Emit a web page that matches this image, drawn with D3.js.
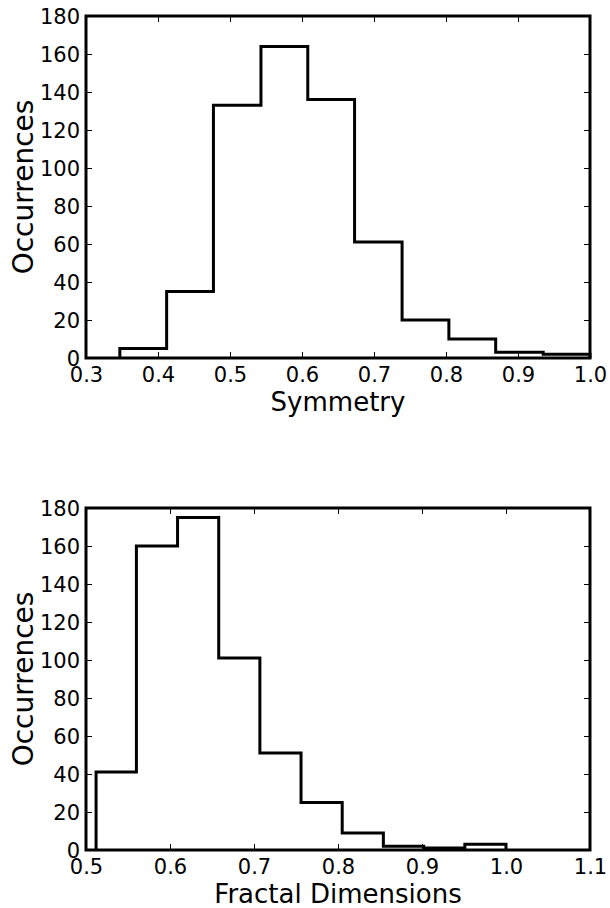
<!DOCTYPE html>
<html>
<head>
<meta charset="utf-8">
<script src="https://d3js.org/d3.v7.min.js"></script>
<style>
  body { margin: 0; background: #fff; }
  text { font-family: "DejaVu Sans", sans-serif; fill: #000; }
</style>
</head>
<body>
<div class="chart"></div>
<script>
// histogram data
var symmetryEdges = [0.347, 0.412, 0.477, 0.543, 0.608, 0.673, 0.739, 0.804, 0.869, 0.935, 1.0];
var symmetryCounts = [5, 35, 133, 164, 136, 61, 20, 10, 3, 2];
var symmetryTicks = [0.3, 0.4, 0.5, 0.6, 0.7, 0.8, 0.9, 1.0];

var fractalEdges = [0.512, 0.560, 0.609, 0.658, 0.707, 0.756, 0.805, 0.854, 0.902, 0.951, 1.0];
var fractalCounts = [41, 160, 175, 101, 51, 25, 9, 2, 1, 3];
var fractalTicks = [0.5, 0.6, 0.7, 0.8, 0.9, 1.0, 1.1];

var yTicks = [0, 20, 40, 60, 80, 100, 120, 140, 160, 180];

var svgWidth = 610;
var svgHeight = 908;

var svg = d3.select(".chart")
  .append("svg")
  .attr("width", svgWidth)
  .attr("height", svgHeight);

// one panel = one step histogram with a boxed frame
function drawHist(edges, counts, xTicks, label, top) {
  var margin = { left: 86, top: top };
  var width = 504;
  var height = 342;

  var g = svg.append("g")
    .attr("transform", `translate(${margin.left}, ${margin.top})`);

  var xScale = d3.scaleLinear()
    .domain([xTicks[0], xTicks[xTicks.length - 1]])
    .range([0, width]);

  var yScale = d3.scaleLinear()
    .domain([0, 180])
    .range([height, 0]);

  // step outline like histtype='step'
  var pts = [[edges[0], 0]];
  counts.forEach(function (c, i) {
    pts.push([edges[i], c]);
    pts.push([edges[i + 1], c]);
  });
  pts.push([edges[edges.length - 1], 0]);

  var line = d3.line()
    .x(d => xScale(d[0]))
    .y(d => yScale(d[1]));

  g.append("path")
    .datum(pts)
    .attr("d", line)
    .attr("fill", "none")
    .attr("stroke", "#000")
    .attr("stroke-width", 3)
    .attr("stroke-linejoin", "miter");

  // inward ticks on all four sides
  var bottomAxis = g.append("g")
    .attr("transform", `translate(0, ${height})`)
    .call(d3.axisBottom(xScale).tickValues(xTicks).tickSize(-6).tickFormat(d3.format(".1f")));
  var topAxis = g.append("g")
    .call(d3.axisTop(xScale).tickValues(xTicks).tickSize(-6).tickFormat(""));
  var leftAxis = g.append("g")
    .call(d3.axisLeft(yScale).tickValues(yTicks).tickSize(-6));
  var rightAxis = g.append("g")
    .attr("transform", `translate(${width}, 0)`)
    .call(d3.axisRight(yScale).tickValues(yTicks).tickSize(-6).tickFormat(""));

  [bottomAxis, topAxis, leftAxis, rightAxis].forEach(function (a) {
    a.select(".domain").remove();
    a.selectAll(".tick line").attr("stroke", "#000").attr("stroke-width", 1);
    a.selectAll(".tick text")
      .attr("fill", "#000")
      .style("font-size", "21px")
      .style("font-family", "DejaVu Sans, sans-serif");
  });

  bottomAxis.selectAll(".tick text").attr("y", 24).attr("dy", null);
  leftAxis.selectAll(".tick text").attr("x", -6).attr("dy", "0.36em");

  // frame
  g.append("rect")
    .attr("width", width)
    .attr("height", height)
    .attr("fill", "none")
    .attr("stroke", "#000")
    .attr("stroke-width", 3);

  // axis labels
  g.append("text")
    .attr("text-anchor", "middle")
    .style("font-size", "26px")
    .attr("x", width / 2)
    .attr("y", height + 53)
    .text(label);

  g.append("text")
    .attr("text-anchor", "middle")
    .style("font-size", "28px")
    .attr("transform", `translate(${33 - margin.left}, ${height / 2}) rotate(-90)`)
    .text("Occurrences");
}

drawHist(symmetryEdges, symmetryCounts, symmetryTicks, "Symmetry", 16);
drawHist(fractalEdges, fractalCounts, fractalTicks, "Fractal Dimensions", 508);
</script>
</body>
</html>
